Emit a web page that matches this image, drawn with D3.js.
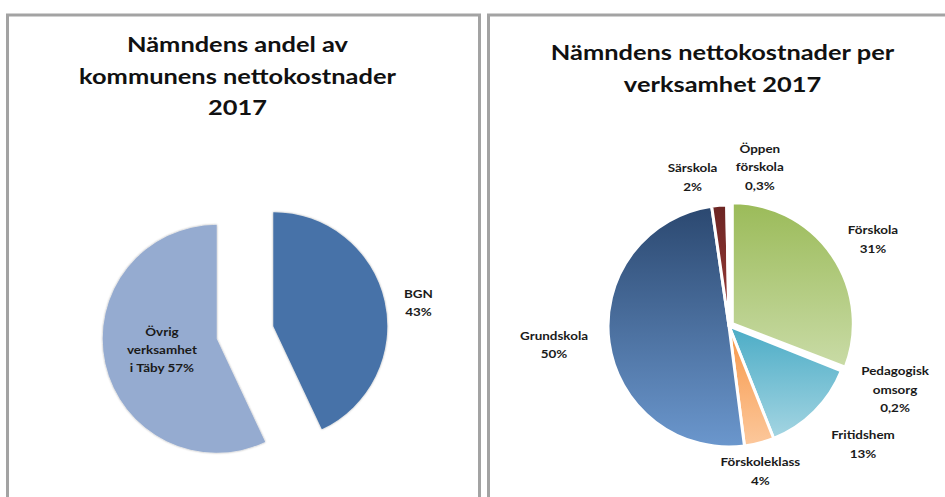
<!DOCTYPE html>
<html>
<head>
<meta charset="utf-8">
<script src="https://cdn.jsdelivr.net/npm/d3@7"></script>
<style>
body { margin: 0; background: #fff; }
</style>
</head>
<body>
<div id="chart"></div>
<script>

// data: left chart
var share_names = ['BGN', 'Övrig verksamhet i Täby'];
var share_values = [43, 57];
var share_label_lines = [['BGN', '43%'], ['Övrig', 'verksamhet', 'i Täby 57%']];
var share_colors = [['#4672a8', '#4672a8'], ['#95abd0', '#95abd0']];

// data: right chart
var unit_names = ['Förskola', 'Pedagogisk omsorg', 'Fritidshem', 'Förskoleklass', 'Grundskola', 'Särskola', 'Öppen förskola'];
var unit_values = [31, 0.2, 13, 4, 50, 2, 0.3];
var unit_label_lines = [
	['Förskola', '31%'],
	['Pedagogisk', 'omsorg', '0,2%'],
	['Fritidshem', '13%'],
	['Förskoleklass', '4%'],
	['Grundskola', '50%'],
	['Särskola', '2%'],
	['Öppen', 'förskola', '0,3%']
];
var unit_colors = [
	['#9bbb59', '#c9dba6'],
	['#8064a2', '#b3a2c7'],
	['#4bacc6', '#a4d5e2'],
	['#f79646', '#fcc89c'],
	['#2b4870', '#6b97cd'],
	['#6c2523', '#9b3c39'],
	['#4f81bd', '#95b3d7']
];

var titles = [
	['Nämndens andel av', 'kommunens nettokostnader', '2017'],
	['Nämndens nettokostnader per', 'verksamhet 2017']
];


// layout (label spots given as radius factor + angle nudge off the slice bisector)
var width = 945,
	height = 497;
var title_sx = 1.27, // text in the source is stretched sideways
	label_sx = 1.12;

var svg = d3.select('#chart').append('svg')
	.attr('width', width)
	.attr('height', height)
	.style('display', 'block');

var defs = svg.append('defs');
defs.append('filter')
	.attr('id', 'soft')
	.attr('x', '-10%').attr('y', '-10%').attr('width', '120%').attr('height', '120%')
  .append('feDropShadow')
	.attr('dx', 0).attr('dy', 0)
	.attr('stdDeviation', 1.1)
	.attr('flood-color', '#000')
	.attr('flood-opacity', 0.35);

function draw_panel(x, y, w, h) {
	svg.append('rect')
		.attr('x', x).attr('y', y)
		.attr('width', w).attr('height', h)
		.attr('fill', '#fff')
		.attr('stroke', '#a3a3a3')
		.attr('stroke-width', 3);
}

function draw_title(lines, cx, baselines) {
	lines.forEach((line, i) => {
		svg.append('text')
			.attr('transform', 'translate(' + cx + ',' + baselines[i] + ') scale(' + title_sx + ',1)')
			.attr('text-anchor', 'middle')
			.attr('font-family', 'Lato, sans-serif')
			.attr('font-weight', 'bold')
			.attr('font-size', 20)
			.attr('fill', '#111')
			.text(line);
	});
}

function draw_pie(opts) {
	var pie = d3.pie().sort(null)(opts.values);
	var arc = d3.arc().innerRadius(0).outerRadius(opts.r);
	var g = svg.append('g')
		.attr('transform', 'translate(' + opts.cx + ',' + opts.cy + ')');

	pie.forEach((d, i) => {
		var grad = defs.append('linearGradient')
			.attr('id', opts.id + '-g' + i)
			.attr('x1', 0).attr('y1', 0).attr('x2', 0).attr('y2', 1);
		grad.append('stop').attr('offset', '0%').attr('stop-color', opts.colors[i][0]);
		grad.append('stop').attr('offset', '100%').attr('stop-color', opts.colors[i][1]);

		var mid = (d.startAngle + d.endAngle) / 2;
		var e = opts.explode[i];
		var ox = Math.sin(mid) * e,
			oy = -Math.cos(mid) * e;

		g.append('path')
			.attr('d', arc(d))
			.attr('transform', 'translate(' + ox + ',' + oy + ')')
			.attr('fill', 'url(#' + opts.id + '-g' + i + ')')
			.attr('stroke', opts.stroke)
			.attr('stroke-width', opts.stroke_width)
			.attr('stroke-linejoin', 'round')
			.attr('filter', opts.shadow ? 'url(#soft)' : null)
		  .append('title')
			.text(opts.names[i]);

		// data label
		var spot = opts.label_spots[i];
		var a = mid + spot[1] * Math.PI / 180;
		var px = ox + Math.sin(a) * opts.r * spot[0],
			py = oy - Math.cos(a) * opts.r * spot[0];
		var lines = opts.label_lines[i];
		var lh = opts.line_height;
		var top = py - (lines.length - 1) / 2 * lh;

		lines.forEach((line, k) => {
			g.append('text')
				.attr('transform', 'translate(' + px + ',' + (top + k * lh + 4.5) + ') scale(' + label_sx + ',1)')
				.attr('text-anchor', 'middle')
				.attr('font-family', 'Lato, sans-serif')
				.attr('font-weight', 'bold')
				.attr('font-size', 12)
				.attr('fill', '#1a1a1a')
				.text(line);
		});
	});
}

draw_panel(7.5, 15, 472, 500);
draw_panel(488.5, 15, 480, 500);

draw_title(titles[0], 237.5, [52, 83.5, 115]);
draw_title(titles[1], 722.5, [60, 91.5]);

draw_pie({
	id: 'share',
	cx: 245, cy: 332.5, r: 114,
	values: share_values,
	names: share_names,
	colors: share_colors,
	explode: [29, 29],
	label_spots: [[1.29, 3.4], [0.49, 1.3]],
	label_lines: share_label_lines,
	line_height: 18,
	stroke: 'none', stroke_width: 0,
	shadow: true
});

draw_pie({
	id: 'unit',
	cx: 729, cy: 326, r: 121,
	values: unit_values,
	names: unit_names,
	colors: unit_colors,
	explode: [4, 0, 0, 0, 0, 0, 0],
	label_spots: [[1.357, 3.4], [1.468, -0.6], [1.475, -3.7], [1.226, 2.3], [1.454, 1.8], [1.267, -9.1], [1.339, 11.5]],
	label_lines: unit_label_lines,
	line_height: 18.5,
	stroke: '#fff', stroke_width: 3,
	shadow: false
});

</script>
</body>
</html>
